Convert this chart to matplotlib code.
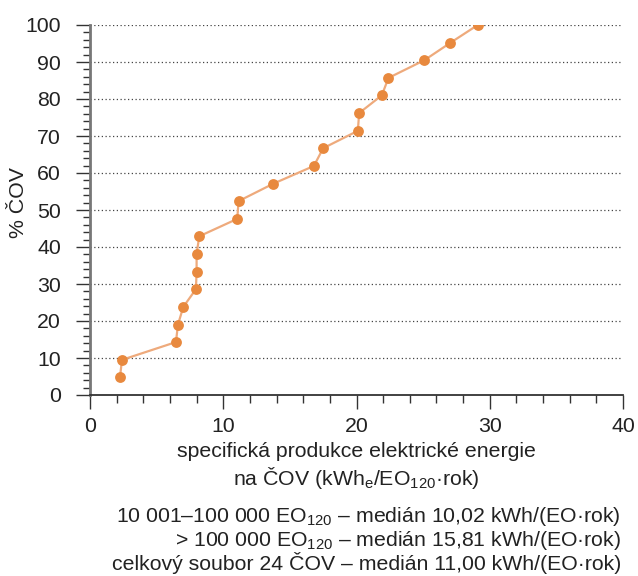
import numpy as np
import matplotlib
matplotlib.use('Agg')
import matplotlib.pyplot as plt
from matplotlib.ticker import MultipleLocator

plt.rcParams['font.family'] = ['Liberation Sans', 'DejaVu Sans']
plt.rcParams['mathtext.fontset'] = 'custom'
plt.rcParams['mathtext.rm'] = 'Liberation Sans'
plt.rcParams['mathtext.it'] = 'Liberation Sans:italic'

# data: specific production vs. cumulative share of WWTPs
production = [2.25, 2.4, 6.45, 6.6, 7.0, 7.95, 8.0, 8.0, 8.2, 11.05, 11.15,
              13.75, 16.8, 17.5, 20.1, 20.2, 21.9, 22.4, 25.1, 27.05, 29.1]
share_pct = [4.8, 9.5, 14.3, 19.0, 23.8, 28.6, 33.3, 38.1, 42.9, 47.6, 52.4,
             57.1, 61.9, 66.7, 71.4, 76.2, 81.0, 85.7, 90.5, 95.2, 100.0]

y_label = '% ČOV'
x_label_1 = 'specifická produkce elektrické energie'
x_label_2 = 'na ČOV (kWh$_{\\mathrm{e}}$/EO$_{\\mathrm{120}}$·rok)'
notes = [
    '10 001–100 000 EO$_{\\mathrm{120}}$ – medián 10,02 kWh/(EO·rok)',
    '> 100 000 EO$_{\\mathrm{120}}$ – medián 15,81 kWh/(EO·rok)',
    'celkový soubor 24 ČOV – medián 11,00 kWh/(EO·rok)',
]

W, H = 638, 576
fs = 15.3
fig = plt.figure(figsize=(W / 100, H / 100), dpi=100)
ax = fig.add_axes([90 / W, 1 - 395 / H, (623 - 90) / W, (395 - 25) / H])

ax.plot(production, share_pct, color='#eeaa7c', lw=1.6, zorder=2)
ax.plot(production, share_pct, 'o', color='#e8893e', ms=7.8, mec='none', zorder=3)

ax.set_xlim(0, 40)
ax.set_ylim(0, 100)
ax.xaxis.set_major_locator(MultipleLocator(10))
ax.xaxis.set_minor_locator(MultipleLocator(2))
ax.yaxis.set_major_locator(MultipleLocator(10))
ax.yaxis.set_minor_locator(MultipleLocator(2))

for v in range(10, 101, 10):
    ax.axhline(v, color='#444444', lw=0.9, ls=(0, (1, 2)), zorder=1)

for s in ['top', 'right']:
    ax.spines[s].set_visible(False)
ax.spines['left'].set_color('#777777')
ax.spines['left'].set_linewidth(2)
ax.spines['bottom'].set_color('#333333')
ax.spines['bottom'].set_linewidth(1.3)

ax.tick_params(axis='both', which='major', length=10, width=1, color='#333333',
               labelsize=fs, labelcolor='#222222')
ax.tick_params(axis='x', which='major', pad=6)
ax.tick_params(axis='y', which='major', pad=11)
ax.tick_params(axis='x', which='minor', length=6, width=1, color='#333333')
ax.tick_params(axis='y', which='minor', length=5, width=1, color='#333333')

fig.text(18 / W, 1 - 203 / H, y_label, rotation=90, ha='center', va='center',
         fontsize=fs, color='#222222')

fig.text(356 / W, 1 - 457 / H, x_label_1, ha='center', va='baseline',
         fontsize=fs, color='#222222')
fig.text(356 / W, 1 - 485 / H, x_label_2, ha='center', va='baseline',
         fontsize=fs, color='#222222')

for i, line in enumerate(notes):
    fig.text(621 / W, 1 - (522 + 24 * i) / H, line, ha='right', va='baseline',
             fontsize=fs, color='#222222')

fig.savefig('out.png', dpi=100)
